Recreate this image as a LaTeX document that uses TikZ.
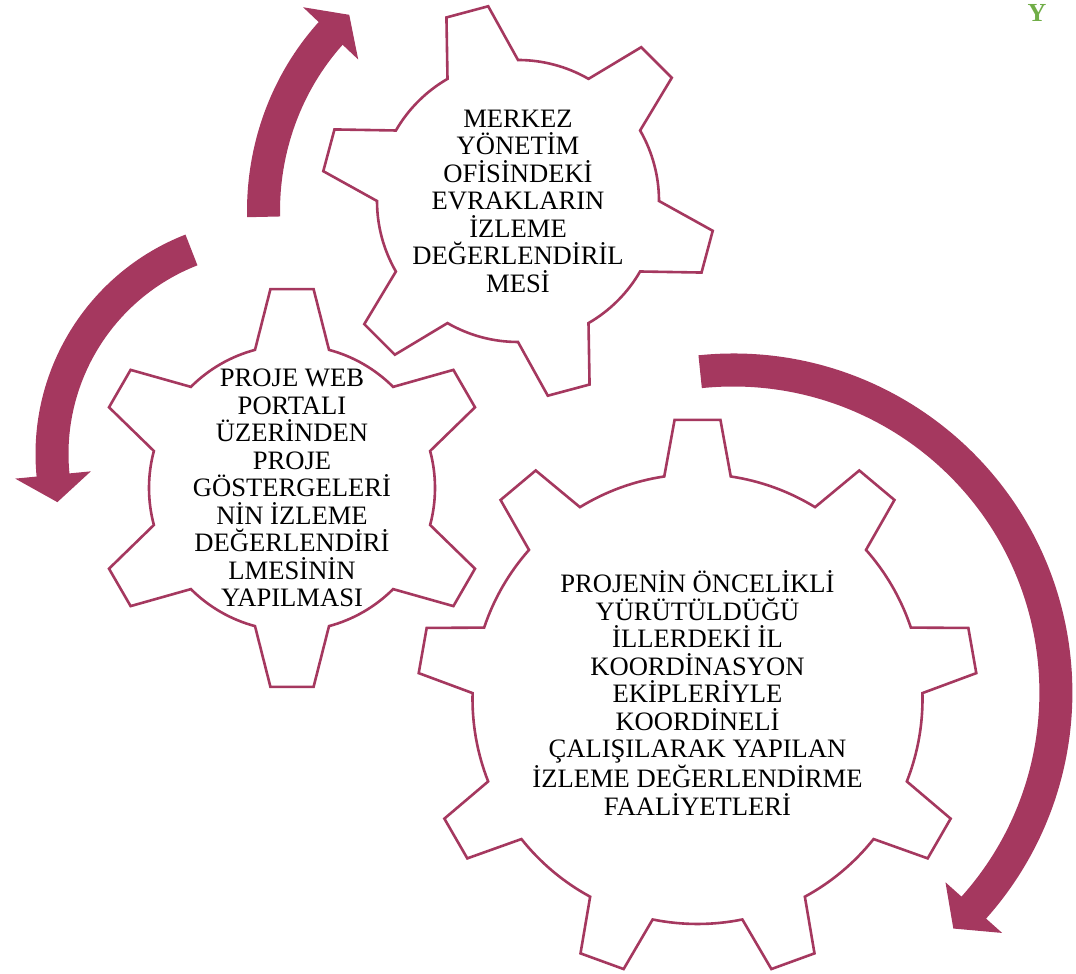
\documentclass[tikz,border=0pt]{standalone}
\usepackage{fontspec}
\setmainfont{Liberation Serif}
\usepackage{tikz}
\usetikzlibrary{calc}
\definecolor{gearred}{RGB}{165,56,95}
\definecolor{leafgreen}{RGB}{112,173,71}
% gear: #1 centre, #2 teeth, #3 turn, #4 outer r, #5 inner r, #6 tip half angle, #7 root half angle
\newcommand{\gearoutline}[7]{%
  \draw[gear, shift={(#1)}] ({#3-#7}:#5)
    \foreach \k in {1,...,#2}{
      -- ({#3+360/#2*(\k-1)-#6}:#4) -- ({#3+360/#2*(\k-1)+#6}:#4)
      -- ({#3+360/#2*(\k-1)+#7}:#5)
      arc[start angle={#3+360/#2*(\k-1)+#7}, end angle={#3+360/#2*\k-#7}, radius=#5]
    } -- cycle;}
% round arrow: #1 centre, #2/#3 mid radii (x and y), #4 tail angle, #5 head angle, #6 tip angle
\newcommand{\cyclearrow}[6]{%
  \fill[cycarrow, shift={(#1)}] ({#4}:{#2+16.5} and {#3+16.5})
    arc[start angle=#4, end angle=#5, x radius={#2+16.5}, y radius={#3+16.5}]
    -- ({#5}:{#2+38} and {#3+38}) -- ({#6}:#2 and #3) -- ({#5}:{#2-38} and {#3-38})
    -- ({#5}:{#2-16.5} and {#3-16.5})
    arc[start angle=#5, end angle=#4, x radius={#2-16.5}, y radius={#3-16.5}] -- cycle;}

\begin{document}
\begin{tikzpicture}[x=0.5pt, y=0.5pt,
  gear/.style={draw=gearred, line width=1.3pt, fill=white, line join=miter},
  cycarrow/.style={fill=gearred},
  gtext/.style={align=center, inner sep=0pt, font=\fontsize{13.3}{13.75}\selectfont}]
\useasboundingbox (0,0) rectangle (1076,974);

\coordinate (c1) at (518,773);
\coordinate (c2) at (292,486);
\coordinate (c3) at (697.5,275);
\coordinate (o1) at (508,763);
\coordinate (o2) at (271,520);
\coordinate (o3) at (733.3,281.4);

% gears
\gearoutline{c3}{9}{90}{280}{225}{4.7}{8.5}
\gearoutline{c2}{6}{90}{200}{143}{6.2}{15}
\gearoutline{c1}{6}{105}{197}{141}{6.3}{15}

\node[gtext] (merkez) at (c1) {MERKEZ\\YÖNETİM\\OFİSİNDEKİ\\EVRAKLARIN\\İZLEME\\DEĞERLENDİRİL\\MESİ};
\node[gtext] (portal) at (c2) {PROJE WEB\\PORTALI\\ÜZERİNDEN\\PROJE\\GÖSTERGELERİ\\NİN İZLEME\\DEĞERLENDİRİ\\LMESİNİN\\YAPILMASI};
\node[gtext] (iller) at ($(c3)+(0,6)$) {PROJENİN ÖNCELİKLİ\\YÜRÜTÜLDÜĞÜ\\İLLERDEKİ İL\\KOORDİNASYON\\EKİPLERİYLE\\KOORDİNELİ\\ÇALIŞILARAK YAPILAN\\İZLEME DEĞERLENDİRME\\FAALİYETLERİ};

% arrows round the gears
\cyclearrow{o1}{244.5}{258}{181.3}{136.5}{130.5}
\cyclearrow{o2}{219}{219}{111.3}{185.5}{192.7}
\cyclearrow{o3}{322.6}{322.6}{95.9}{-41.8}{-47}

\node[text=leafgreen, font=\fontsize{13}{13}\selectfont\bfseries] (leaf) at (1037,961) {Y};
\end{tikzpicture}
\end{document}
